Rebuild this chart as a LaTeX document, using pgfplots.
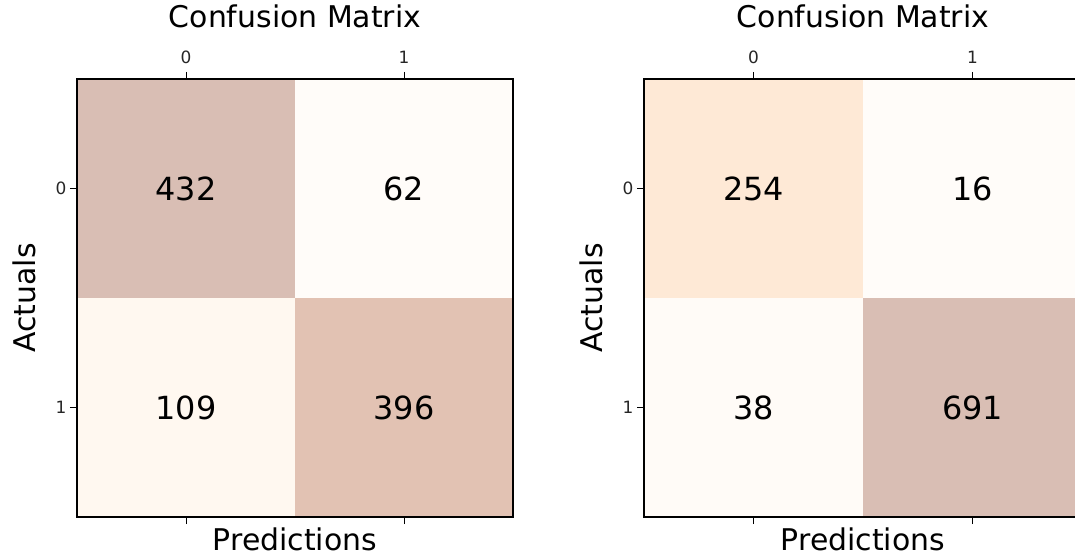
\documentclass[border=0pt]{standalone}
\usepackage{fontspec}
\setmainfont{DejaVu Sans}
\usepackage{pgfplots}
\pgfplotsset{compat=1.18}
\pgfplotsset{
  colormap={orangesalpha}{rgb255=(255,252,249) rgb255=(255,248,240) rgb255=(254,241,227) rgb255=(254,231,211) rgb255=(254,221,197) rgb255=(251,210,184) rgb255=(244,200,179) rgb255=(228,195,179) rgb255=(217,190,180)},
  cmstyle/.style={
    scale only axis,
    anchor=south west,
    height=438bp,
    xmin=-0.5, xmax=1.5,
    ymin=-0.5, ymax=1.5,
    y dir=reverse,
    enlargelimits=false,
    xtick={0,1}, ytick={0,1},
    xtick pos=both, ytick pos=left,
    xticklabel pos=upper,
    tick align=outside,
    major tick length=7bp,
    every tick/.style={black, line width=0.9bp},
    axis line style={black, line width=1.1bp},
    /pgf/number format/assume math mode=true,
    tick label style={font=\fontsize{17}{20}\selectfont, text=black!85},
    xticklabel style={yshift=5bp},
    title={Confusion Matrix},
    title style={font=\fontsize{30}{36}\selectfont, at={(axis description cs:0.5,1)}, anchor=base, yshift=46bp},
    xlabel={Predictions},
    xlabel style={font=\fontsize{30}{36}\selectfont, inner sep=0.5bp, at={(axis description cs:0.5,0)}, anchor=base, yshift=-33bp},
    ylabel={Actuals},
    ylabel style={font=\fontsize{30}{36}\selectfont, at={(axis description cs:0,0.5)}, anchor=base, yshift=42bp},
    colormap name=orangesalpha,
    axis on top,
  },
  numstyle/.style={draw=none, mark=none, nodes near coords, nodes near coords align=center,
    point meta=explicit symbolic,
    every node near coord/.style={font=\fontsize{32}{38}\selectfont, text=black, anchor=center}},
}
\begin{document}
\begin{tikzpicture}
\useasboundingbox (0bp,0bp) rectangle (1075bp,558bp);
\clip (0bp,0bp) rectangle (1075bp,558bp);
\begin{axis}[cmstyle, at={(77bp,41bp)}, width=436bp, point meta min=62, point meta max=432]
\addplot[matrix plot*, mesh/cols=2, point meta=explicit] table[meta=c]{
x y c
0 0 432
1 0 62
0 1 109
1 1 396
};
\addplot[numstyle] table[meta=c]{
x y c
0 0 432
1 0 62
0 1 109
1 1 396
};
\end{axis}
\begin{axis}[cmstyle, at={(644bp,41bp)}, width=438bp, point meta min=16, point meta max=691]
\addplot[matrix plot*, mesh/cols=2, point meta=explicit] table[meta=c]{
x y c
0 0 254
1 0 16
0 1 38
1 1 691
};
\addplot[numstyle] table[meta=c]{
x y c
0 0 254
1 0 16
0 1 38
1 1 691
};
\end{axis}
\end{tikzpicture}
\end{document}
